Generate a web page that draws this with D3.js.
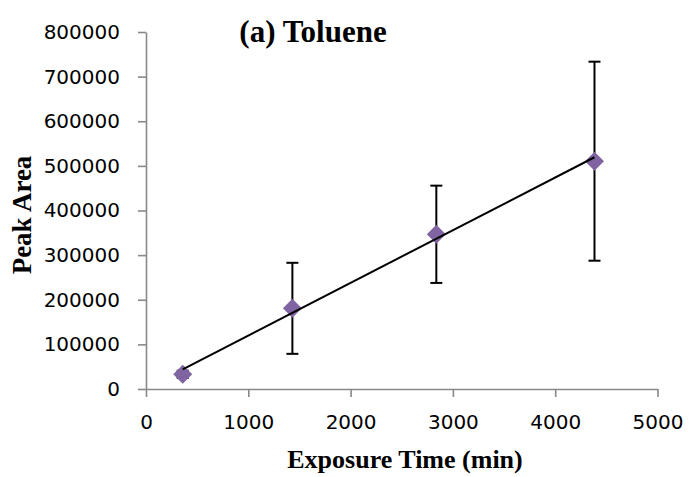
<!DOCTYPE html>
<html>
<head>
<meta charset="utf-8">
<script src="https://cdn.jsdelivr.net/npm/d3@7"></script>
<style>
  html, body { margin: 0; padding: 0; background: #fff; }
  svg { display: block; }
</style>
</head>
<body>
<svg id="chart" width="696" height="477"></svg>
<script>
const exposureTime = [359, 1431, 2838, 4384];
const peakArea = [32900, 180800, 346700, 510500];
const peakError = [8000, 102000, 109000, 223000];
const xTicks = [0, 1000, 2000, 3000, 4000, 5000];
const yTicks = [0, 100000, 200000, 300000, 400000, 500000, 600000, 700000, 800000];
const chartTitle = "(a) Toluene";
const xTitle = "Exposure Time (min)";
const yTitle = "Peak Area";

const svg = d3.select("#chart");
const x = d3.scaleLinear().domain([0, 5000]).range([146, 657.5]);
const y = d3.scaleLinear().domain([0, 800000]).range([389, 32]);
const axisColor = "#898989";

// Y axis
const gy = svg.append("g").attr("transform", "translate(146,0)")
  .call(d3.axisLeft(y).tickValues(yTicks).tickSize(8).tickSizeOuter(0).tickPadding(18).tickFormat(d3.format("d")));
gy.select(".domain").attr("stroke", axisColor).attr("stroke-width", 1.6);
gy.selectAll(".tick line").attr("stroke", axisColor).attr("stroke-width", 1.6);
gy.selectAll(".tick text").attr("font-family", "DejaVu Sans").attr("font-size", 20).attr("fill", "#000");

// X axis
const gx = svg.append("g").attr("transform", "translate(0,389)")
  .call(d3.axisBottom(x).tickValues(xTicks).tickSize(8).tickSizeOuter(0).tickFormat(d3.format("d")));
gx.select(".domain").attr("stroke", axisColor).attr("stroke-width", 1.6);
gx.selectAll(".tick line").attr("stroke", axisColor).attr("stroke-width", 1.6);
gx.selectAll(".tick text").attr("font-family", "DejaVu Sans").attr("font-size", 20).attr("fill", "#000")
  .attr("y", 40).attr("dy", 0);

// Linear trendline (least squares)
const n = exposureTime.length;
const mx = d3.mean(exposureTime), my = d3.mean(peakArea);
let sxy = 0, sxx = 0;
for (let i = 0; i < n; i++) { sxy += (exposureTime[i] - mx) * (peakArea[i] - my); sxx += (exposureTime[i] - mx) ** 2; }
const slope = sxy / sxx, intercept = my - slope * mx;
const xMin = d3.min(exposureTime), xMax = d3.max(exposureTime);

// Error bars
const eb = svg.append("g");
exposureTime.forEach((t, i) => {
  const cx = x(t);
  const top = y(peakArea[i] + peakError[i]);
  const bot = y(peakArea[i] - peakError[i]);
  eb.append("line").attr("x1", cx).attr("x2", cx).attr("y1", top).attr("y2", bot).attr("stroke", "#000").attr("stroke-width", 2);
  eb.append("line").attr("x1", cx - 6).attr("x2", cx + 6).attr("y1", top).attr("y2", top).attr("stroke", "#000").attr("stroke-width", 2);
  eb.append("line").attr("x1", cx - 6).attr("x2", cx + 6).attr("y1", bot).attr("y2", bot).attr("stroke", "#000").attr("stroke-width", 2);
});

// Diamond markers
const diamond = d3.symbol().type(d3.symbolDiamond2).size(230);
svg.append("g").selectAll("path").data(exposureTime).join("path")
  .attr("d", diamond)
  .attr("transform", (d, i) => `translate(${x(d)},${y(peakArea[i])})`)
  .attr("fill", "#8064A2");

// Trendline drawn above markers
svg.append("line")
  .attr("x1", x(xMin)).attr("y1", y(slope * xMin + intercept))
  .attr("x2", x(xMax)).attr("y2", y(slope * xMax + intercept))
  .attr("stroke", "#000").attr("stroke-width", 2);

// Titles
svg.append("text").text(chartTitle)
  .attr("x", 313).attr("y", 42).attr("text-anchor", "middle")
  .attr("font-family", "Liberation Serif").attr("font-weight", "bold").attr("font-size", 31);
svg.append("text").text(xTitle)
  .attr("x", 405).attr("y", 468).attr("text-anchor", "middle")
  .attr("font-family", "Liberation Serif").attr("font-weight", "bold").attr("font-size", 26);
svg.append("text").text(yTitle)
  .attr("transform", "translate(31,215) rotate(-90)").attr("text-anchor", "middle")
  .attr("font-family", "Liberation Serif").attr("font-weight", "bold").attr("font-size", 27);
</script>
</body>
</html>
